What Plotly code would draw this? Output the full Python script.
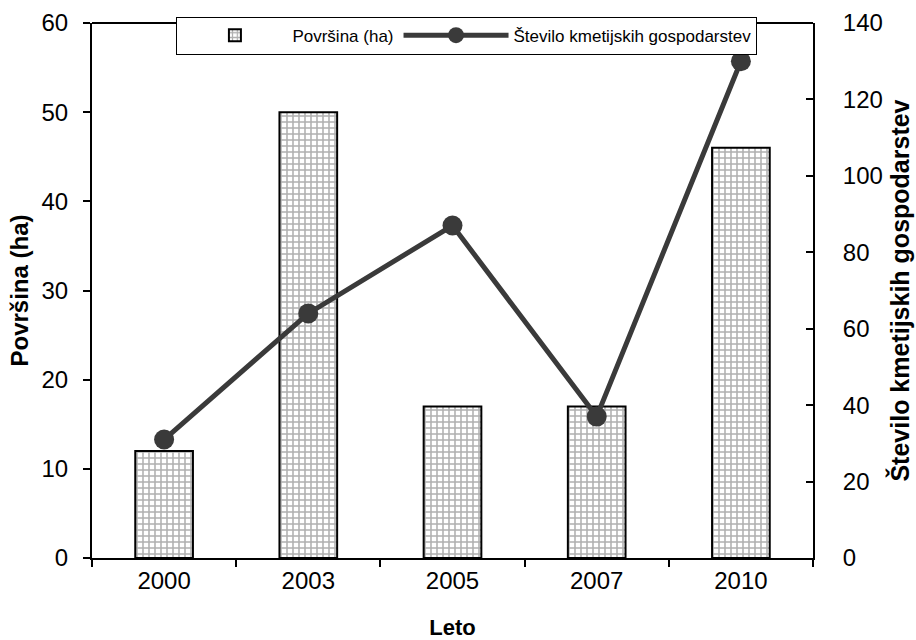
import plotly.graph_objects as go

years = ["2000", "2003", "2005", "2007", "2010"]
area_ha = [12, 50, 17, 17, 46]
farms = [31, 64, 87, 37, 130]

font_family = "Liberation Sans, Arial, sans-serif"

fig = go.Figure()
fig.add_trace(go.Bar(
    x=years, y=area_ha, name="Površina (ha)",
    width=0.4,
    marker=dict(
        color="white",
        line=dict(color="black", width=2),
        pattern=dict(shape="+", fgcolor="#606060", bgcolor="white", size=6, solidity=0.45),
    ),
    yaxis="y",
))
fig.add_trace(go.Scatter(
    x=years, y=farms, name="Število kmetijskih gospodarstev",
    mode="lines+markers",
    line=dict(color="#3a3a3a", width=5),
    marker=dict(color="#3a3a3a", size=20),
    yaxis="y2",
))

fig.update_layout(
    width=916, height=640,
    margin=dict(l=92, r=103, t=23, b=82),
    paper_bgcolor="white", plot_bgcolor="white",
    font=dict(family=font_family, color="black", size=24),
    showlegend=True,
    legend=dict(
        orientation="h", x=0.52, xanchor="center", y=1.012, yanchor="top",
        bgcolor="white", bordercolor="black", borderwidth=1,
        font=dict(size=17), itemwidth=105, traceorder="normal",
    ),
    xaxis=dict(
        type="category", range=[-0.5, 4.5], automargin=False,
        showline=True, linecolor="black", linewidth=2, mirror=False,
        ticks="outside", ticklen=7, tickcolor="black", tickwidth=1.5,
        tickson="boundaries", showgrid=False,
        title=dict(text="<b>Leto</b>", font=dict(size=22), standoff=28),
        tickfont=dict(size=24),
    ),
    yaxis=dict(
        range=[0, 60], dtick=10, automargin=False,
        showline=True, linecolor="black", linewidth=2,
        ticks="outside", ticklen=7, tickcolor="black", tickwidth=1.5,
        ticklabelstandoff=10,
        showgrid=False, zeroline=False,
        title=dict(text="<b>Površina (ha)</b>", font=dict(size=24), standoff=6),
        tickfont=dict(size=24),
    ),
    yaxis2=dict(
        range=[0, 140], dtick=20, overlaying="y", side="right", automargin=False,
        showline=True, linecolor="black", linewidth=2,
        ticks="inside", ticklen=7, tickcolor="black", tickwidth=1.5,
        ticklabelstandoff=23,
        showgrid=False, zeroline=False,
        title=dict(text="<b>Število kmetijskih gospodarstev</b>", font=dict(size=25), standoff=10),
        tickfont=dict(size=24),
    ),
    shapes=[dict(type="line", xref="paper", yref="paper", x0=0, x1=1, y0=1, y1=1,
                 line=dict(color="black", width=2), layer="below")],
)

fig.write_html("out.html", config={"displayModeBar": False},
               post_script="document.body.style.margin='0';")
